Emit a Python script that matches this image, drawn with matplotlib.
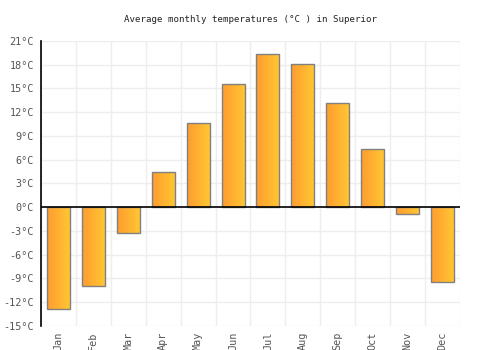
import matplotlib
matplotlib.use("Agg")
import matplotlib.pyplot as plt
import numpy as np
from matplotlib.colors import LinearSegmentedColormap

months = ["Jan", "Feb", "Mar", "Apr", "May", "Jun", "Jul", "Aug", "Sep", "Oct", "Nov", "Dec"]
temps = [-12.8, -9.9, -3.2, 4.5, 10.7, 15.6, 19.3, 18.1, 13.2, 7.4, -0.9, -9.5]
yticks = [-15, -12, -9, -6, -3, 0, 3, 6, 9, 12, 15, 18, 21]

plt.rcParams['font.family'] = ['DejaVu Sans Mono', 'DejaVu Sans']

fig = plt.figure(figsize=(5, 3.5), dpi=100)
ax = fig.add_axes([0.082, 0.0686, 0.838, 0.8144])

cmap = LinearSegmentedColormap.from_list("g", ["#ff9c30", "#ffc832"])
grad = np.linspace(0, 1, 64).reshape(1, -1)

x = np.arange(len(months))
width = 0.66
bars = ax.bar(x, temps, width=width, facecolor="none", edgecolor="#808080", linewidth=1.0, zorder=3)
for b, v in zip(bars, temps):
    x0 = b.get_x()
    y0, y1 = (0, v) if v >= 0 else (v, 0)
    im = ax.imshow(grad, cmap=cmap, aspect="auto", extent=[x0, x0 + width, y0, y1],
                   origin="lower", zorder=2, interpolation="bilinear")
    im.set_clip_path(b)

ax.set_xlim(-0.5, len(months) - 0.5)
ax.set_ylim(-15, 21)
ax.set_yticks(yticks)
ax.set_yticklabels([f"{t}°C" for t in yticks], fontsize=7.3, color="#555555")
ax.set_xticks(x)
ax.set_xticklabels(months, rotation=90, fontsize=7.3, color="#555555")
ax.set_xticks(np.arange(-0.5, len(months), 1), minor=True)
ax.tick_params(axis="x", which="major", length=0, pad=4)
ax.tick_params(axis="x", which="minor", length=0)
ax.tick_params(axis="y", length=0, pad=5)
ax.grid(True, axis="y", color="#eeeeee", linewidth=1, zorder=0)
ax.grid(True, axis="x", which="minor", color="#eeeeee", linewidth=1, zorder=0)
ax.set_axisbelow(True)
for s in ["top", "right", "bottom"]:
    ax.spines[s].set_visible(False)
ax.spines["left"].set_color("black")
ax.spines["left"].set_linewidth(1.2)
ax.axhline(0, color="black", linewidth=1.2, zorder=4)

fig.text(0.5, 0.943, "Average monthly temperatures (°C ) in Superior", ha="center", va="center",
         fontsize=6.6, color="#222222")

fig.savefig("out.png", dpi=100)
